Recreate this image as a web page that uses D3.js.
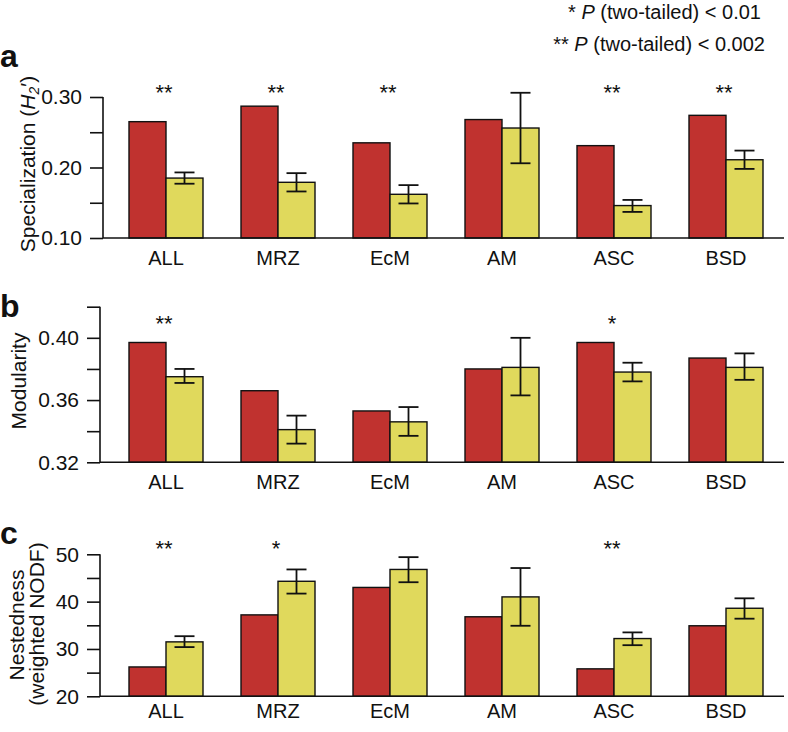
<!DOCTYPE html>
<html><head><meta charset="utf-8">
<script src="https://cdn.jsdelivr.net/npm/d3@7"></script>
<style>
body{margin:0;background:#fff;}
text{font-family:"Liberation Sans",Arial,Helvetica,sans-serif;fill:#111;}
</style></head>
<body><svg id="c" width="788" height="732"></svg>
<script>
const categories = ["ALL","MRZ","EcM","AM","ASC","BSD"];

// Panel a: Specialization (H2')
const specObserved = [0.265,0.287,0.235,0.268,0.231,0.274];
const specNull     = [0.185,0.179,0.162,0.256,0.146,0.211];
const specNullLow  = [0.177,0.166,0.149,0.206,0.137,0.198];
const specNullHigh = [0.193,0.192,0.175,0.306,0.154,0.224];
const specStars    = ["**","**","**","","**","**"];
const specTicks    = [0.10,0.15,0.20,0.25,0.30];
const specLabels   = [0.10,0.20,0.30];

// Panel b: Modularity
const modObserved = [0.397,0.366,0.353,0.380,0.397,0.387];
const modNull     = [0.375,0.341,0.346,0.381,0.378,0.381];
const modNullLow  = [0.371,0.332,0.337,0.363,0.372,0.373];
const modNullHigh = [0.380,0.350,0.3555,0.400,0.384,0.390];
const modStars    = ["**","","","","*",""];
const modTicks    = [0.32,0.34,0.36,0.38,0.40,0.42];
const modLabels   = [0.32,0.36,0.40];

// Panel c: Nestedness (weighted NODF)
const nestObserved = [26.2,37.2,43.0,36.8,25.8,34.9];
const nestNull     = [31.5,44.3,46.8,41.0,32.2,38.6];
const nestNullLow  = [30.4,41.7,44.1,34.9,30.8,36.4];
const nestNullHigh = [32.7,46.8,49.4,47.1,33.5,40.7];
const nestStars    = ["**","*","","","**",""];
const nestTicks    = [20,25,30,35,40,45,50];
const nestLabels   = [20,30,40,50];

const RED = "#c0322f", YELLOW = "#e0d95c";
const svg = d3.select("#c");

const x = d3.scalePoint().domain(categories).range([110,782]).padding(0.5);
const barW = 37;

function panel(o){
  const y = d3.scaleLinear().domain(o.domain).range([o.bottom,o.top]);
  const g = svg.append("g");
  const ax = d3.axisLeft(y).tickValues(o.ticks).tickSize(13).tickPadding(8)
     .tickFormat(d => o.labels.some(l=>Math.abs(l-d)<1e-9) ? o.fmt(d) : "");
  const ag = g.append("g").attr("transform",`translate(${o.axisX},0)`).call(ax);
  ag.select(".domain").attr("d",`M0,${o.top}V${o.bottom}`).attr("stroke","#111").attr("stroke-width",1.6);
  ag.selectAll(".tick line").attr("stroke","#111").attr("stroke-width",1.6);
  ag.selectAll(".tick text").attr("font-size",21).attr("fill","#111");
  const rows = categories.map((c,i)=>({c,obs:o.obs[i],nul:o.nul[i],lo:o.lo[i],hi:o.hi[i],star:o.stars[i]}));
  g.selectAll(".r").data(rows).join("rect")
    .attr("x",d=>x(d.c)-barW).attr("width",barW)
    .attr("y",d=>y(d.obs)).attr("height",d=>o.bottom-y(d.obs))
    .attr("fill",RED).attr("stroke","#111").attr("stroke-width",1.4);
  g.selectAll(".yl").data(rows).join("rect")
    .attr("x",d=>x(d.c)).attr("width",barW)
    .attr("y",d=>y(d.nul)).attr("height",d=>o.bottom-y(d.nul))
    .attr("fill",YELLOW).attr("stroke","#111").attr("stroke-width",1.4);
  const eg = g.selectAll(".eb").data(rows).join("g").attr("stroke","#111").attr("stroke-width",1.8);
  eg.append("line").attr("x1",d=>x(d.c)+barW/2).attr("x2",d=>x(d.c)+barW/2)
    .attr("y1",d=>y(d.lo)).attr("y2",d=>y(d.hi));
  eg.append("line").attr("x1",d=>x(d.c)+barW/2-10).attr("x2",d=>x(d.c)+barW/2+10)
    .attr("y1",d=>y(d.lo)).attr("y2",d=>y(d.lo));
  eg.append("line").attr("x1",d=>x(d.c)+barW/2-10).attr("x2",d=>x(d.c)+barW/2+10)
    .attr("y1",d=>y(d.hi)).attr("y2",d=>y(d.hi));
  g.append("line").attr("x1",o.axisX).attr("x2",784).attr("y1",o.bottom).attr("y2",o.bottom)
    .attr("stroke","#111").attr("stroke-width",1.6);
  g.selectAll(".cl").data(categories).join("text")
    .attr("x",d=>x(d)).attr("y",o.bottom+o.labOff).attr("text-anchor","middle")
    .attr("font-size",20).text(d=>d);
  g.selectAll(".st").data(rows.filter(d=>d.star)).join("text")
    .attr("x",d=>x(d.c)-2).attr("y",o.starY).attr("text-anchor","middle")
    .attr("font-size",22).text(d=>d.star);
  svg.append("text").attr("x",0).attr("y",o.letterY).attr("font-size",32).attr("font-weight","bold")
    .text(o.letter);
}

panel({domain:[0.10,0.30],top:97,bottom:238,axisX:103,ticks:specTicks,labels:specLabels,fmt:d3.format(".2f"),
  obs:specObserved,nul:specNull,lo:specNullLow,hi:specNullHigh,stars:specStars,labOff:27,starY:100,letter:"a",letterY:67});
panel({domain:[0.32,0.42],top:306.7,bottom:462.3,axisX:100,ticks:modTicks,labels:modLabels,fmt:d3.format(".2f"),
  obs:modObserved,nul:modNull,lo:modNullLow,hi:modNullHigh,stars:modStars,labOff:27,starY:331,letter:"b",letterY:317});
panel({domain:[20,50],top:554.3,bottom:696.3,axisX:100,ticks:nestTicks,labels:nestLabels,fmt:d3.format("d"),
  obs:nestObserved,nul:nestNull,lo:nestNullLow,hi:nestNullHigh,stars:nestStars,labOff:22,starY:556,letter:"c",letterY:544});

const t1 = svg.append("text").attr("transform","translate(35,164) rotate(-90)").attr("text-anchor","middle").attr("font-size",21);
t1.append("tspan").text("Specialization (");
t1.append("tspan").attr("font-style","italic").text("H");
t1.append("tspan").attr("font-style","italic").attr("font-size",14).attr("dy",4).text("2");
t1.append("tspan").attr("dy",-4).text("′)");
svg.append("text").attr("transform","translate(26,381) rotate(-90)").attr("text-anchor","middle").attr("font-size",21).text("Modularity");
svg.append("text").attr("transform","translate(24,625) rotate(-90)").attr("text-anchor","middle").attr("font-size",21).text("Nestedness");
svg.append("text").attr("transform","translate(44,624) rotate(-90)").attr("text-anchor","middle").attr("font-size",21).text("(weighted NODF)");

const l1 = svg.append("text").attr("x",761).attr("y",19).attr("text-anchor","end").attr("font-size",20);
l1.append("tspan").text("*  ");
l1.append("tspan").attr("font-style","italic").text("P");
l1.append("tspan").text(" (two-tailed) < 0.01");
const l2 = svg.append("text").attr("x",765).attr("y",51).attr("text-anchor","end").attr("font-size",20);
l2.append("tspan").text("**  ");
l2.append("tspan").attr("font-style","italic").text("P");
l2.append("tspan").text(" (two-tailed) < 0.002");
</script></body></html>
